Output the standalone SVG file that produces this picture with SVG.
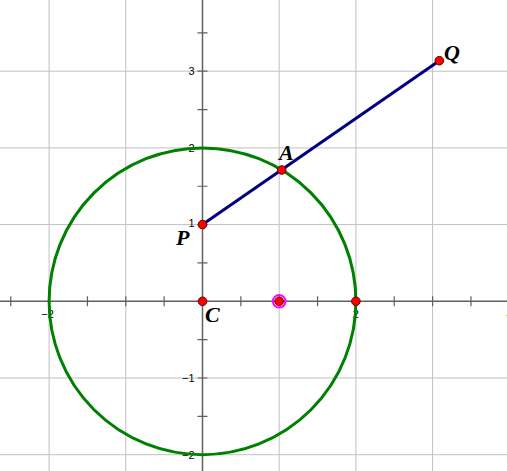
<svg xmlns="http://www.w3.org/2000/svg" width="507" height="471" viewBox="0 0 507 471">
<style>
.grid{stroke:#c0c0c0;stroke-width:1;fill:none}
.axis{stroke:#606060;stroke-width:1.5;fill:none}
.tick{stroke:#606060;stroke-width:1.2}
.num{font-family:"Liberation Sans",Arial,sans-serif;font-size:11px;fill:#000}
.lbl{font-family:"Liberation Serif","Times New Roman",serif;font-size:22px;font-weight:bold;font-style:italic;fill:#000}
.pt{fill:#ff0000;stroke:#600000;stroke-width:1}
</style>
<rect width="507" height="471" fill="#fff"/>
<g id="grid">
<path class="grid" d="M49.1 0V471M125.8 0V471M279.2 0V471M355.9 0V471M432.6 0V471M0 71.2H507M0 147.9H507M0 224.6H507M0 378H507M0 454.7H507"/>
</g>
<g id="axes">
<path class="axis" d="M0 301.3H507M202.5 0V471"/>
<path class="tick" d="M10.75 296.3v10M49.1 296.3v10M87.45 296.3v10M125.8 296.3v10M164.15 296.3v10M240.85 296.3v10M279.2 296.3v10M317.55 296.3v10M355.9 296.3v10M394.25 296.3v10M432.6 296.3v10M470.95 296.3v10M197.5 32.85h10M197.5 71.2h10M197.5 109.55h10M197.5 147.9h10M197.5 186.25h10M197.5 224.6h10M197.5 262.95h10M197.5 339.65h10M197.5 378h10M197.5 416.35h10M197.5 454.7h10"/>
<text class="num" x="194.5" y="75.2" text-anchor="end">3</text>
<text class="num" x="194.5" y="151.9" text-anchor="end">2</text>
<text class="num" x="194.5" y="227" text-anchor="end">1</text>
<text class="num" x="194.5" y="382" text-anchor="end">−1</text>
<text class="num" x="194.5" y="458.7" text-anchor="end">−2</text>
<text class="num" x="47.5" y="318" text-anchor="middle">−2</text>
<text class="num" x="355.9" y="318" text-anchor="middle">2</text>
<text class="num" x="509.5" y="318" text-anchor="middle">4</text>
</g>
<g id="circle">
<circle cx="202.5" cy="301.3" r="153.4" fill="none" stroke="#008000" stroke-width="3"/>
</g>
<g id="connectors">
<line x1="202.5" y1="224.6" x2="439.3" y2="60.7" stroke="#000080" stroke-width="3"/>
</g>
<g id="C"><circle class="pt" cx="202.5" cy="301.3" r="4.3"/><text class="lbl" x="205" y="322">C</text></g>
<g id="M"><circle cx="279.2" cy="301.3" r="6.3" fill="none" stroke="#ff00ff" stroke-width="2"/><circle class="pt" cx="279.2" cy="301.3" r="4.3"/></g>
<g id="B"><circle class="pt" cx="355.9" cy="301.3" r="4.3"/></g>
<g id="P"><circle class="pt" cx="202.5" cy="224.6" r="4.3"/><text class="lbl" x="176" y="245">P</text></g>
<g id="A"><circle class="pt" cx="281.7" cy="170" r="4.3"/><text class="lbl" x="279" y="160">A</text></g>
<g id="Q"><circle class="pt" cx="439.3" cy="60.7" r="4.3"/><text class="lbl" x="444" y="60">Q</text></g>
</svg>
